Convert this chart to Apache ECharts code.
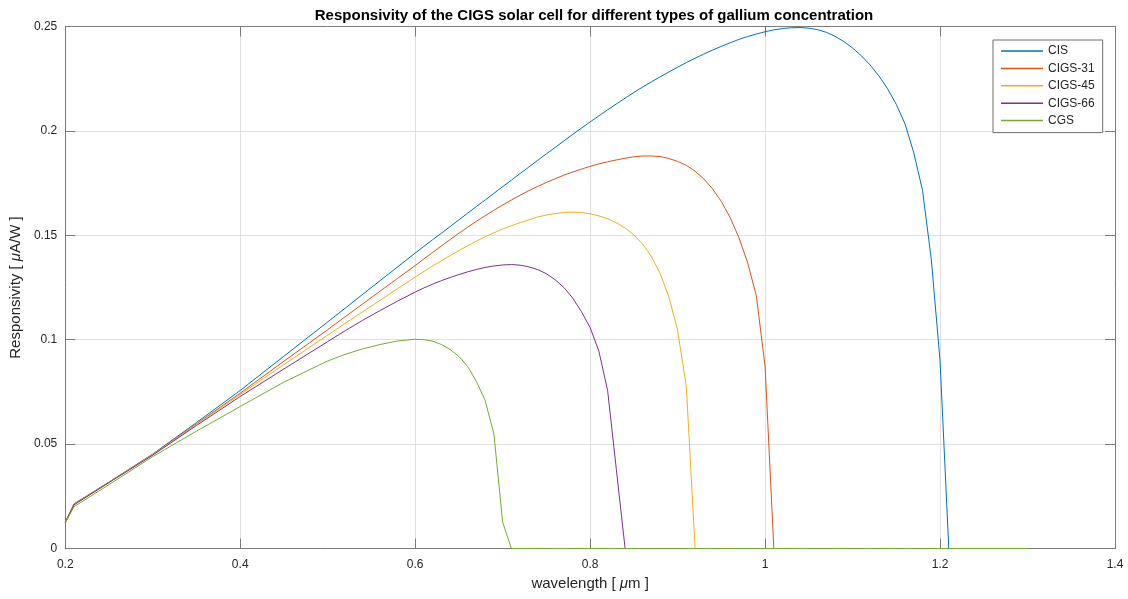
<!DOCTYPE html>
<html>
<head>
<meta charset="utf-8">
<title>Responsivity of the CIGS solar cell</title>
<script src="https://cdn.jsdelivr.net/npm/echarts@6/dist/echarts.min.js"></script>
<style>
  html, body { margin: 0; padding: 0; background: #ffffff; }
  #chart { width: 1128px; height: 599px; }
</style>
</head>
<body>
<div id="chart"></div>
<script>
// Wavelength samples in micrometres
const wavelengths = [
  0.2, 0.21, 0.25, 0.3, 0.35, 0.4, 0.45, 0.5, 0.52, 0.54,
  0.56, 0.58, 0.6, 0.61, 0.62, 0.63, 0.64, 0.65, 0.66, 0.67,
  0.68, 0.69, 0.7, 0.71, 0.72, 0.73, 0.74, 0.75, 0.76, 0.77,
  0.78, 0.79, 0.8, 0.81, 0.82, 0.83, 0.84, 0.85, 0.86, 0.87,
  0.88, 0.89, 0.9, 0.91, 0.92, 0.93, 0.94, 0.95, 0.96, 0.97,
  0.98, 0.99, 1.0, 1.01, 1.02, 1.03, 1.04, 1.05, 1.06, 1.07,
  1.08, 1.09, 1.1, 1.11, 1.12, 1.13, 1.14, 1.15, 1.16, 1.17,
  1.18, 1.19, 1.2, 1.21, 1.3
];

// Responsivity [uA/W] for each gallium concentration (one value per wavelength)
const cis = [
  0.0125, 0.0214, 0.0318, 0.0452, 0.0603, 0.0757, 0.0921, 0.1085, 0.1151, 0.1217,
  0.1283, 0.1349, 0.1415, 0.1447, 0.1479, 0.1510, 0.1542, 0.1574, 0.1606, 0.1638,
  0.1669, 0.1701, 0.1733, 0.1764, 0.1796, 0.1827, 0.1859, 0.1890, 0.1921, 0.1952,
  0.1983, 0.2013, 0.2043, 0.2072, 0.2101, 0.2129, 0.2157, 0.2184, 0.2210, 0.2235,
  0.2259, 0.2282, 0.2305, 0.2327, 0.2348, 0.2368, 0.2387, 0.2405, 0.2422, 0.2438,
  0.2452, 0.2464, 0.2475, 0.2484, 0.2490, 0.2494, 0.2495, 0.2492, 0.2485, 0.2472,
  0.2453, 0.2428, 0.2397, 0.2360, 0.2316, 0.2264, 0.2202, 0.2127, 0.2033, 0.1895,
  0.1715, 0.1385, 0.0900, 0, 0
];

const cigs31 = [
  0.0125, 0.0212, 0.0317, 0.0450, 0.0597, 0.0744, 0.0897, 0.1048, 0.1110, 0.1171,
  0.1233, 0.1294, 0.1355, 0.1387, 0.1418, 0.1449, 0.1480, 0.1510, 0.1539, 0.1567,
  0.1594, 0.1620, 0.1645, 0.1669, 0.1692, 0.1714, 0.1734, 0.1753, 0.1771, 0.1788,
  0.1803, 0.1817, 0.1830, 0.1842, 0.1852, 0.1861, 0.1869, 0.1876, 0.1880, 0.1880,
  0.1877, 0.1868, 0.1854, 0.1835, 0.1807, 0.1770, 0.1722, 0.1662, 0.1585, 0.1490,
  0.1370, 0.1210, 0.0872, 0, 0, 0, 0, 0, 0, 0,
  0, 0, 0, 0, 0, 0, 0, 0, 0, 0,
  0, 0, 0, 0, 0
];

const cigs45 = [
  0.0125, 0.0211, 0.0317, 0.0449, 0.0594, 0.0738, 0.0881, 0.1022, 0.1078, 0.1134,
  0.1189, 0.1245, 0.1300, 0.1327, 0.1353, 0.1378, 0.1403, 0.1427, 0.1450, 0.1472,
  0.1493, 0.1512, 0.1530, 0.1546, 0.1560, 0.1574, 0.1588, 0.1597, 0.1604, 0.1609,
  0.1611, 0.1609, 0.1603, 0.1593, 0.1579, 0.1560, 0.1535, 0.1502, 0.1458, 0.1398,
  0.1318, 0.1205, 0.1045, 0.0775, 0, 0, 0, 0, 0, 0,
  0, 0, 0, 0, 0, 0, 0, 0, 0, 0,
  0, 0, 0, 0, 0, 0, 0, 0, 0, 0,
  0, 0, 0, 0, 0
];

const cigs66 = [
  0.0125, 0.0209, 0.0316, 0.0447, 0.0589, 0.0728, 0.0860, 0.0991, 0.1043, 0.1093,
  0.1140, 0.1185, 0.1228, 0.1248, 0.1266, 0.1283, 0.1298, 0.1312, 0.1325, 0.1336,
  0.1346, 0.1353, 0.1358, 0.1360, 0.1357, 0.1349, 0.1336, 0.1316, 0.1287, 0.1250,
  0.1200, 0.1135, 0.1058, 0.0945, 0.0757, 0.0378, 0, 0, 0, 0,
  0, 0, 0, 0, 0, 0, 0, 0, 0, 0,
  0, 0, 0, 0, 0, 0, 0, 0, 0, 0,
  0, 0, 0, 0, 0, 0, 0, 0, 0, 0,
  0, 0, 0, 0, 0
];

const cgs = [
  0.0122, 0.0200, 0.0306, 0.0440, 0.0562, 0.0680, 0.0797, 0.0898, 0.0930, 0.0956,
  0.0977, 0.0994, 0.1002, 0.1000, 0.0993, 0.0977, 0.0953, 0.0920, 0.0872, 0.0800,
  0.0709, 0.0549, 0.0126, 0, 0, 0, 0, 0, 0, 0,
  0, 0, 0, 0, 0, 0, 0, 0, 0, 0,
  0, 0, 0, 0, 0, 0, 0, 0, 0, 0,
  0, 0, 0, 0, 0, 0, 0, 0, 0, 0,
  0, 0, 0, 0, 0, 0, 0, 0, 0, 0,
  0, 0, 0, 0, 0
];

const seriesNames = ['CIS', 'CIGS-31', 'CIGS-45', 'CIGS-66', 'CGS'];
const seriesValues = [cis, cigs31, cigs45, cigs66, cgs];
const seriesColors = ['#0072BD', '#D95319', '#EDB120', '#7E2F8E', '#77AC30'];

const FONT = '"Liberation Sans", Arial, Helvetica, sans-serif';
const AXIS_COLOR = '#7a7a7a';
const TEXT_COLOR = '#262626';

const chart = echarts.init(document.getElementById('chart'), null, { renderer: 'canvas' });

const tickStyle = { show: true, inside: true, length: 10, lineStyle: { color: AXIS_COLOR, width: 1 } };
const lineStyleAxis = { show: true, onZero: false, lineStyle: { color: AXIS_COLOR, width: 1 } };
const nameStyle = {
  fontFamily: FONT, fontSize: 15, color: TEXT_COLOR,
  rich: { it: { fontFamily: FONT, fontSize: 15, fontStyle: 'italic', color: TEXT_COLOR } }
};

const option = {
  animation: false,
  backgroundColor: '#ffffff',
  title: {
    text: 'Responsivity of the CIGS solar cell for different types of gallium concentration',
    left: 589,
    textAlign: 'center',
    top: 3,
    textStyle: { fontFamily: FONT, fontSize: 15, fontWeight: 'bold', color: '#000000' }
  },
  legend: {
    orient: 'vertical',
    left: 993,
    top: 40,
    padding: [4, 8, 5, 8],
    itemGap: 3.4,
    itemWidth: 42,
    itemHeight: 1.5,
    icon: 'rect',
    backgroundColor: '#ffffff',
    borderColor: '#6e6e6e',
    borderWidth: 1,
    textStyle: { fontFamily: FONT, fontSize: 12, color: TEXT_COLOR, lineHeight: 14 },
    data: seriesNames
  },
  grid: { left: 65, right: 13, top: 26.5, bottom: 50.5, containLabel: false },
  xAxis: [
    {
      type: 'value',
      min: 0.2, max: 1.4, interval: 0.2,
      name: 'wavelength [ {it|μ}m ]',
      nameLocation: 'middle',
      nameGap: 28,
      nameTextStyle: nameStyle,
      axisLine: lineStyleAxis,
      axisTick: tickStyle,
      axisLabel: { fontFamily: FONT, fontSize: 12, color: TEXT_COLOR, margin: 10 },
      splitLine: { show: true, lineStyle: { color: '#e0e0e0', width: 1 } }
    },
    {
      type: 'value',
      position: 'top',
      min: 0.2, max: 1.4, interval: 0.2,
      axisLine: lineStyleAxis,
      axisTick: tickStyle,
      axisLabel: { show: false },
      splitLine: { show: false }
    }
  ],
  yAxis: [
    {
      type: 'value',
      min: 0, max: 0.25, interval: 0.05,
      name: 'Responsivity [ {it|μ}A/W ]',
      nameLocation: 'middle',
      nameGap: 38,
      nameTextStyle: nameStyle,
      axisLine: lineStyleAxis,
      axisTick: tickStyle,
      axisLabel: { fontFamily: FONT, fontSize: 12, color: TEXT_COLOR, margin: 8 },
      splitLine: { show: true, lineStyle: { color: '#e0e0e0', width: 1 } }
    },
    {
      type: 'value',
      position: 'right',
      min: 0, max: 0.25, interval: 0.05,
      axisLine: lineStyleAxis,
      axisTick: tickStyle,
      axisLabel: { show: false },
      splitLine: { show: false }
    }
  ],
  series: seriesNames.map((name, k) => ({
    name: name,
    type: 'line',
    xAxisIndex: 0,
    yAxisIndex: 0,
    symbol: 'none',
    showSymbol: false,
    smooth: false,
    color: seriesColors[k],
    lineStyle: { width: 1, color: seriesColors[k] },
    data: wavelengths.map((w, i) => [w, seriesValues[k][i]])
  }))
};

chart.setOption(option);
</script>
</body>
</html>
